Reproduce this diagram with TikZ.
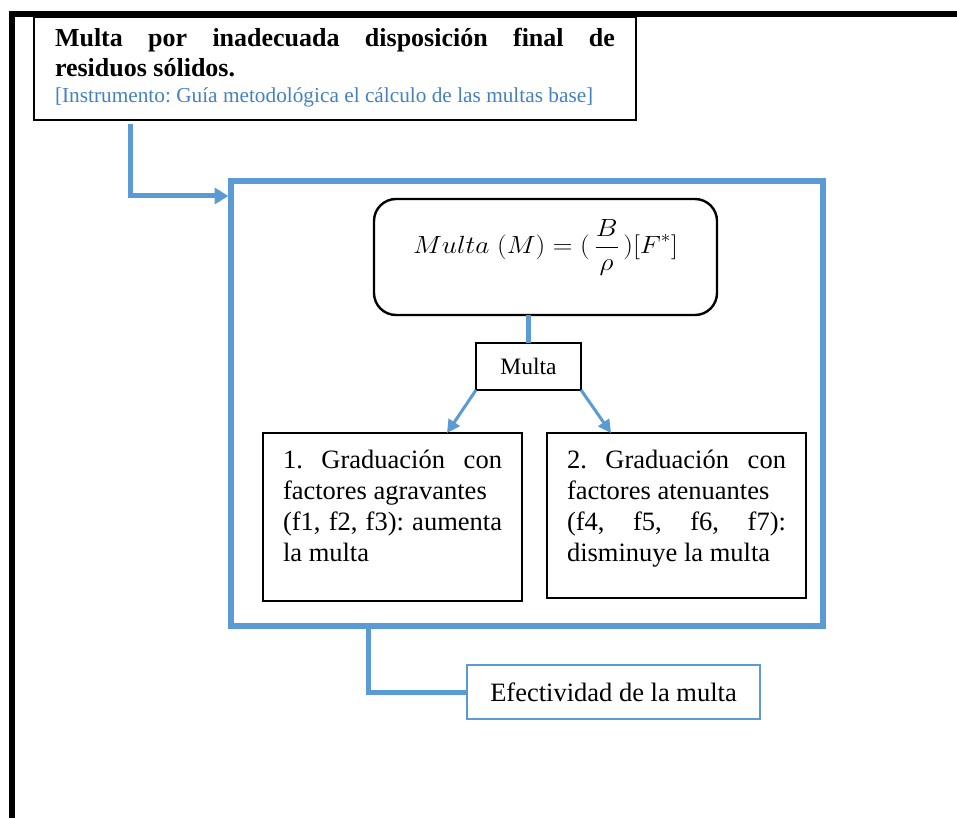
\documentclass[tikz,border=0pt]{standalone}
\usepackage{fontspec}
\setmainfont{Liberation Serif}
\usetikzlibrary{arrows.meta,calc}
\definecolor{lblue}{HTML}{5B9BD5}
\definecolor{tblue}{RGB}{68,128,196}
\hyphenpenalty=10000
\exhyphenpenalty=10000
\hbadness=10000
\frenchspacing
\tikzset{
  conn/.style={draw=lblue, line width=5pt},
  thinarrow/.style={draw=lblue, line width=3pt, -{Triangle[length=13pt,width=13pt]}},
  plainbox/.style={draw=black, line width=1.4pt, inner sep=0pt, outer sep=0pt, anchor=north west},
  bluebox/.style={draw=lblue, line width=1.3pt, inner sep=0pt, outer sep=0pt, anchor=north west},
  bigframe/.style={draw=lblue, line width=5.5pt, inner sep=0pt, outer sep=0pt, anchor=north west},
  formbox/.style={draw=black, line width=2.4pt, rounded corners=22pt, inner sep=0pt, outer sep=0pt, anchor=north west},
}
\begin{document}
\frenchspacing
\begin{tikzpicture}[x=1pt,y=-1pt]
\useasboundingbox (0,0) rectangle (957,818);
% outer black frame
\draw[line width=6pt] (957,14) -- (12,14) -- (12,818);
% top box
\node[plainbox, inner xsep=21pt] (top) at (34,17) {\parbox[c][103pt][t]{560pt}{%
  \fontsize{26}{30}\selectfont\bfseries\rule{0pt}{30pt}Multa por inadecuada disposición final de\linebreak residuos sólidos.\par
  \fontsize{21.3}{26}\selectfont\mdseries\color{tblue}[Instrumento: Guía metodológica el cálculo de las multas base]}};
% big blue frame
\node[bigframe, minimum width=592pt, minimum height=445pt] (frame) at (231,181) {};
% formula box
\node[formbox, minimum width=343pt, minimum height=116pt] (fbox) at (374,199)
  {\raisebox{4pt}[0pt][0pt]{\scalebox{1.1}[1]{\fontsize{26}{30}\selectfont$\displaystyle Multa\;(M)=(\,\frac{B}{\rho}\,)[F^{*}]$}}};
% Multa box
\node[plainbox, minimum width=105pt, minimum height=47pt, font=\fontsize{23.5}{28}\selectfont] (mbox) at (476,343) {Multa};
% left and right boxes
\node[plainbox, inner xsep=20pt] (lb) at (263,433) {\parbox[c][168pt][t]{219pt}{%
  \fontsize{26.5}{31}\selectfont\rule{0pt}{35pt}1. Graduación con\linebreak factores agravantes\\ (f1, f2, f3): aumenta\linebreak la multa}};
\node[plainbox, inner xsep=20pt] (rb) at (547,433) {\parbox[c][165pt][t]{219pt}{%
  \fontsize{26.5}{31}\selectfont\rule{0pt}{35pt}2. Graduación con\linebreak factores atenuantes\\ (f4, f5, f6, f7):\linebreak disminuye la multa}};
% Efectividad box
\node[bluebox, minimum width=293pt, minimum height=54pt, font=\fontsize{26.5}{31}\selectfont] (eff) at (467,665) {Efectividad de la multa};
% connectors
\draw[conn, -{Triangle[length=14pt,width=16pt]}, shorten <=4pt, shorten >=2.5pt]
  ([xshift=96pt]top.south west) |- ([yshift=-15pt]frame.north west);
\draw[conn] (mbox.north) -- (mbox.north |- fbox.south);
\draw[thinarrow] (mbox.south west) -- ([xshift=184pt]lb.north west);
\draw[thinarrow] (mbox.south east) -- ([xshift=64pt]rb.north west);
\draw[conn] ([xshift=137pt]frame.south west) |- (eff.west);
\end{tikzpicture}
\end{document}
